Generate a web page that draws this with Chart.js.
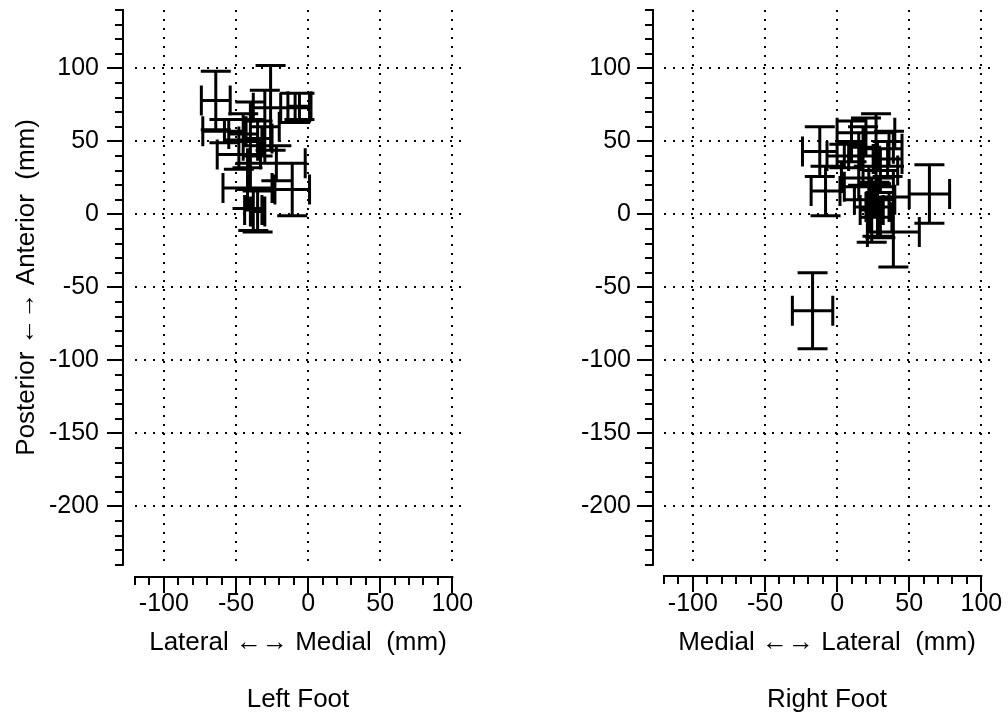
<!DOCTYPE html>
<html><head><meta charset="utf-8">
<script src="https://cdn.jsdelivr.net/npm/chart.js@4.4.0/dist/chart.umd.min.js"></script>
<style>
html,body{margin:0;padding:0;background:#fff;overflow:hidden;}
#wrap{position:relative;width:1008px;height:719px;background:#fff;}
.c{position:absolute;top:0;width:504px;height:719px;}
</style></head><body>
<div id="wrap">
<div class="c" style="left:0"><canvas id="left" width="504" height="719"></canvas></div>
<div class="c" style="left:504px"><canvas id="right" width="504" height="719"></canvas></div>
</div>
<script>
// ---- data (mm) ----
const leftX    = [-64, -26, -9, -6, -58, -45, -40, -35, -30, -48, -22, -42, -11, -38, -35, -40];
const leftY    = [ 78,  73, 73, 74,  57,  55,  50,  52,  60,  41,  35,  18,  17,   3,   2,  47];
const leftXErr = [ 10,  12, 10,  8,  15,  10,   8,  10,  10,  15,  20,  17,  12,   6,   5,   5];
const leftYErr = [ 20,  29, 10,  9,   8,  14,  15,  12,  25,  10,  12,  14,  18,  14,  14,  30];

const rightX    = [-17, -12, -8, 64,  39, 27, 20, 10, 36, 35, 22, 15, 28, 24, 30, 26,  5, 30, 18];
const rightY    = [-66,  43, 16, 14, -12, 45, 56, 50, 45, 38, 19, 25,  5,  3, -2, 10, 40, 30, 40];
const rightXErr = [ 14,  12, 10, 14,  18, 12, 20, 10,  9, 10, 17, 12,  8,  8,  8, 14, 12, 12, 10];
const rightYErr = [ 26,  17, 17, 20,  24, 24, 10, 14, 12, 12, 14, 15, 20, 22, 14, 12,  8, 15, 20];

// ---- axes ----
const xAxisRange = [-120, 100];   // drawn axis line
const xScaleMax = 106;            // plot area reaches a little past the axis end
const yRange = [-240, 140];
const xMajorTicks = [-100, -50, 0, 50, 100];
const yMajorTicks = [100, 50, 0, -50, -100, -150, -200];
const xMinorTicks = [-120,-110,-90,-80,-70,-60,-40,-30,-20,-10,10,20,30,40,60,70,80,90];
const yMinorTicks = [140,130,120,110,90,80,70,60,40,30,20,10,-10,-20,-30,-40,-60,-70,-80,-90,
                     -110,-120,-130,-140,-160,-170,-180,-190,-210,-220,-230,-240];
const leftXTitle  = 'Lateral \u2190\u2192 Medial  (mm)';
const rightXTitle = 'Medial \u2190\u2192 Lateral  (mm)';
const yTitle      = 'Posterior \u2190\u2192 Anterior  (mm)';
const leftName  = 'Left Foot';
const rightName = 'Right Foot';

const FONT = "'Liberation Sans', Arial, Helvetica, sans-serif";
const FS = 25;
const TS = 26;
Chart.defaults.font.family = FONT;
Chart.defaults.color = '#000';

const offsetAxes = {
  id: 'offsetAxes',
  afterDraw(chart, args, o) {
    const {ctx, chartArea: ca, scales: {x, y}} = chart;
    const ax = Math.round(ca.left - o.gap);
    const ay = Math.round(ca.bottom + o.gap);
    ctx.save();
    ctx.strokeStyle = '#000';
    ctx.lineWidth = 2;
    ctx.beginPath();
    ctx.moveTo(ax, y.getPixelForValue(yRange[1]) - 1);
    ctx.lineTo(ax, y.getPixelForValue(yRange[0]) + 1);
    ctx.moveTo(x.getPixelForValue(xAxisRange[0]) - 1, ay);
    ctx.lineTo(x.getPixelForValue(xAxisRange[1]) + 1, ay);
    yMajorTicks.forEach(v => { const p = Math.round(y.getPixelForValue(v)); ctx.moveTo(ax - o.major, p); ctx.lineTo(ax, p); });
    yMinorTicks.forEach(v => { const p = Math.round(y.getPixelForValue(v)); ctx.moveTo(ax - o.minor, p); ctx.lineTo(ax, p); });
    xMajorTicks.forEach(v => { const p = Math.round(x.getPixelForValue(v)); ctx.moveTo(p, ay); ctx.lineTo(p, ay + o.major); });
    xMinorTicks.forEach(v => { const p = Math.round(x.getPixelForValue(v)); ctx.moveTo(p, ay); ctx.lineTo(p, ay + o.minor); });
    ctx.stroke();
    ctx.restore();
  }
};

const errorBars = {
  id: 'errorBars',
  afterDatasetsDraw(chart, args, o) {
    const {ctx, scales: {x, y}} = chart;
    const cap = o.cap;
    ctx.save();
    ctx.strokeStyle = '#000';
    ctx.lineWidth = o.width;
    ctx.lineCap = 'butt';
    ctx.beginPath();
    o.xs.forEach((xv, i) => {
      const yv = o.ys[i];
      const px = x.getPixelForValue(xv), py = y.getPixelForValue(yv);
      const x1 = x.getPixelForValue(xv - o.xe[i]), x2 = x.getPixelForValue(xv + o.xe[i]);
      const y1 = y.getPixelForValue(yv + o.ye[i]), y2 = y.getPixelForValue(yv - o.ye[i]);
      ctx.moveTo(x1, py); ctx.lineTo(x2, py);
      ctx.moveTo(x1, py - cap); ctx.lineTo(x1, py + cap);
      ctx.moveTo(x2, py - cap); ctx.lineTo(x2, py + cap);
      ctx.moveTo(px, y1); ctx.lineTo(px, y2);
      ctx.moveTo(px - cap, y1); ctx.lineTo(px + cap, y1);
      ctx.moveTo(px - cap, y2); ctx.lineTo(px + cap, y2);
    });
    ctx.stroke();
    ctx.restore();
  }
};

function makeChart(id, xs, ys, xe, ye, xTitle, name, cfg) {
  return new Chart(document.getElementById(id), {
    type: 'scatter',
    data: { datasets: [{ data: xs.map((v, i) => ({x: v, y: ys[i]})), pointRadius: 0, showLine: false }] },
    options: {
      responsive: false, animation: false, devicePixelRatio: 1,
      layout: { padding: { left: 0, right: cfg.padRight, top: 10, bottom: 0 } },
      plugins: {
        legend: { display: false }, tooltip: { enabled: false },
        title: { display: true, text: name, position: 'bottom', fullSize: false,
                 font: { size: TS, weight: 'normal', lineHeight: 1.2 }, color: '#000', padding: { top: 9, bottom: 4 } },
        offsetAxes: { gap: cfg.gap, major: 16, minor: 8 },
        errorBars: { xs, ys, xe, ye, cap: 15, width: 3 }
      },
      scales: {
        x: {
          type: 'linear', min: xAxisRange[0], max: xScaleMax,
          afterFit: s => { s.height = 110; },
          ticks: { stepSize: 50, includeBounds: false, padding: 0, font: { size: FS }, color: '#000',
                   callback: v => xMajorTicks.includes(v) ? String(v) : null },
          grid: { color: '#000', lineWidth: 2, drawTicks: true, tickLength: 24, tickColor: 'rgba(0,0,0,0)' },
          border: { display: false, dash: [2, 7] },
          title: { display: true, text: xTitle, font: { size: TS }, color: '#000', padding: { top: 0, bottom: 16 } }
        },
        y: {
          type: 'linear', min: yRange[0], max: yRange[1],
          afterFit: s => { s.width = cfg.yWidth; },
          ticks: { stepSize: 50, includeBounds: false, padding: 0, font: { size: FS, lineHeight: 0.8 }, color: '#000',
                   callback: v => yMajorTicks.includes(v) ? String(v) : null },
          grid: { color: '#000', lineWidth: 2, drawTicks: true, tickLength: cfg.labelPad, tickColor: 'rgba(0,0,0,0)' },
          border: { display: false, dash: [2, 7] },
          title: { display: cfg.showYTitle, text: yTitle, font: { size: TS }, color: '#000', padding: { top: 11, bottom: 0 } }
        }
      }
    },
    plugins: [offsetAxes, errorBars]
  });
}

makeChart('left', leftX, leftY, leftXErr, leftYErr, leftXTitle, leftName,
          { padRight: 43, yWidth: 135, gap: 12, labelPad: 36, showYTitle: true });
makeChart('right', rightX, rightY, rightXErr, rightYErr, rightXTitle, rightName,
          { padRight: 18, yWidth: 160, gap: 11, labelPad: 33, showYTitle: false });
</script>
</body></html>
